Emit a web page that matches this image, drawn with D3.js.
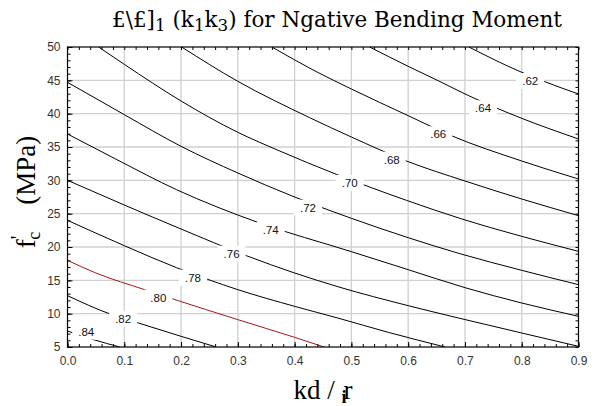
<!DOCTYPE html>
<html>
<head>
<meta charset="utf-8">
<script src="https://cdn.jsdelivr.net/npm/d3@7"></script>
<style>
  html, body { margin: 0; padding: 0; background: #fff; }
  svg { display: block; }
</style>
</head>
<body>
<svg id="chart" width="597" height="406"></svg>
<script>
'use strict';

// title pieces: [text, isSubscript]
var titleParts = [['£\\£]', false], ['1', true], [' (k', false], ['1', true], ['k', false], ['3', true],
  [') for Ngative Bending Moment', false]];

var kdTicks = [0, 0.1, 0.2, 0.3, 0.4, 0.5, 0.6, 0.7, 0.8, 0.9];
var fcTicks = [5, 10, 15, 20, 25, 30, 35, 40, 45, 50];

// contour lines, [kd/r, f'c]
var c62 = [[0.707, 50], [0.792, 46.5], [0.839, 44.85], [0.9, 42.95]];
var c64 = [[0.532, 50], [0.6, 47.1], [0.654, 44.9], [0.704, 42.8], [0.754, 40.9], [0.8, 39.3], [0.9, 36.2]];
var c66 = [[0.36, 50], [0.436, 46.4], [0.5, 43.7], [0.6, 39.7], [0.676, 36.7], [0.8, 32.9], [0.9, 30.2]];
var c68 = [[0.201, 50], [0.3, 44.85], [0.4265, 39.4], [0.5, 36.5], [0.597, 32.9], [0.7, 29.9], [0.8, 27.2], [0.9, 24.7]];
var c70 = [[0.0547, 50], [0.1, 47.4], [0.2, 41.9], [0.3, 37.2], [0.371, 34.5], [0.4735, 30.9], [0.597, 27.0], [0.691, 24.3], [0.8, 21.6], [0.9, 19.35]];
var c72 = [[0, 44.7], [0.1, 39.85], [0.2, 35.1], [0.3, 31.1], [0.397, 27.6], [0.5, 24.3], [0.6, 21.4], [0.691, 19.0], [0.8, 16.5], [0.9, 14.35]];
var c74 = [[0, 36.95], [0.087, 33.1], [0.192, 28.6], [0.335, 23.7], [0.5, 19.3], [0.6, 16.6], [0.7, 13.9], [0.8, 11.6], [0.9, 9.6]];
var c76 = [[0, 30.0], [0.1, 26.3], [0.2, 22.7], [0.315, 18.7], [0.4, 16.1], [0.478, 14.0], [0.6, 11.2], [0.691, 9.3], [0.8, 7.1], [0.9, 5.1]];
var c78 = [[0, 24.0], [0.1, 20.2], [0.192, 16.9], [0.3, 13.6], [0.4, 11.1], [0.478, 9.3], [0.565, 7.2], [0.665, 5.0]];
var c80 = [[0, 18.0], [0.05, 16.1], [0.136, 13.6], [0.186, 12.2], [0.3, 9.1], [0.4, 6.45], [0.452, 5.0]];
var c82 = [[0, 12.7], [0.075, 9.95], [0.125, 8.6], [0.2, 6.6], [0.262, 5.0]];
var c84 = [[0, 7.4], [0.046, 6.1], [0.092, 5.0]];

var levelNames = ['.62', '.64', '.66', '.68', '.70', '.72', '.74', '.76', '.78', '.80', '.82', '.84'];
var labelKd = [0.815, 0.732, 0.653, 0.571, 0.497, 0.4235, 0.358, 0.289, 0.221, 0.160, 0.098, 0.033];
var labelFc = [44.9, 40.8, 36.9, 33.1, 29.6, 25.9, 22.6, 19.0, 15.4, 12.4, 9.2, 7.3];

var contourLines = [c62, c64, c66, c68, c70, c72, c74, c76, c78, c80, c82, c84];

var plotLeft = 67.5, plotRight = 578.5, plotTop = 47, plotBottom = 347;

var svg = d3.select('#chart');

var x = d3.scaleLinear().domain([0, 0.9]).range([plotLeft, plotRight]);
var y = d3.scaleLinear().domain([5, 50]).range([plotBottom, plotTop]);

function translate(tx, ty) {
  return 'translate(' + tx + ', ' + ty + ')';
}

svg.append('clipPath')
  .attr('id', 'plotClip')
  .append('rect')
  .attr('x', plotLeft)
  .attr('y', plotTop)
  .attr('width', plotRight - plotLeft)
  .attr('height', plotBottom - plotTop);

// grid
var grid = svg.append('g').attr('class', 'grid');
grid.selectAll('line.vx')
  .data(kdTicks.slice(1, -1))
  .enter()
  .append('line')
  .attr('class', 'vx')
  .attr('x1', function (d) { return x(d); })
  .attr('x2', function (d) { return x(d); })
  .attr('y1', plotTop)
  .attr('y2', plotBottom);
grid.selectAll('line.hy')
  .data(fcTicks.slice(1, -1))
  .enter()
  .append('line')
  .attr('class', 'hy')
  .attr('x1', plotLeft)
  .attr('x2', plotRight)
  .attr('y1', function (d) { return y(d); })
  .attr('y2', function (d) { return y(d); });
grid.selectAll('line')
  .style('stroke', '#d0d0d0')
  .style('stroke-width', 1.3);

// contour lines
var line = d3.line()
  .x(function (d) { return x(d[0]); })
  .y(function (d) { return y(d[1]); })
  .curve(d3.curveMonotoneX);

svg.append('g')
  .attr('clip-path', 'url(#plotClip)')
  .selectAll('path')
  .data(contourLines)
  .enter()
  .append('path')
  .attr('d', line)
  .style('fill', 'none')
  .style('stroke', function (d, i) {
    return levelNames[i] === '.80' ? '#a4161a' : '#000';
  })
  .style('stroke-width', 1);

// contour labels on white boxes
var labels = svg.append('g').attr('class', 'labels');
levelNames.forEach(function (name, i) {
  var g = labels.append('g').attr('transform', translate(x(labelKd[i]), y(labelFc[i])));
  var rect = g.append('rect').style('fill', '#fff');
  var t = g.append('text')
    .attr('text-anchor', 'middle')
    .attr('dy', '0.36em')
    .style('font-family', 'Liberation Sans, Arial, sans-serif')
    .style('font-size', '11.5px')
    .style('fill', '#111')
    .text(name);
  var w = t.node().getComputedTextLength() + 12;
  rect.attr('x', -w / 2).attr('y', -8).attr('width', w).attr('height', 16);
});

// axes with inward ticks
var minorKd = d3.range(0, 0.9001, 0.02);
var minorFc = d3.range(5, 50.001, 1);

function styleAxis(g) {
  g.select('.domain').remove();
  g.selectAll('.tick line').style('stroke', '#000').style('stroke-width', 1);
  g.selectAll('.tick text')
    .style('font-family', 'Liberation Sans, Arial, sans-serif')
    .style('font-size', '12px')
    .style('fill', '#333');
}

svg.append('g')
  .attr('transform', translate(0, plotBottom))
  .call(d3.axisBottom(x).tickValues(minorKd).tickSize(-3).tickFormat(''))
  .call(styleAxis);
svg.append('g')
  .attr('transform', translate(0, plotTop))
  .call(d3.axisTop(x).tickValues(minorKd).tickSize(-3).tickFormat(''))
  .call(styleAxis);
svg.append('g')
  .attr('transform', translate(plotLeft, 0))
  .call(d3.axisLeft(y).tickValues(minorFc).tickSize(-3).tickFormat(''))
  .call(styleAxis);
svg.append('g')
  .attr('transform', translate(plotRight, 0))
  .call(d3.axisRight(y).tickValues(minorFc).tickSize(-3).tickFormat(''))
  .call(styleAxis);

svg.append('g')
  .attr('transform', translate(0, plotBottom))
  .call(d3.axisBottom(x).tickValues(kdTicks).tickSize(-5).tickPadding(9).tickFormat(d3.format('.1f')))
  .call(styleAxis);
svg.append('g')
  .attr('transform', translate(plotLeft, 0))
  .call(d3.axisLeft(y).tickValues(fcTicks).tickSize(-5).tickPadding(7).tickFormat(d3.format('d')))
  .call(styleAxis);

svg.append('rect')
  .attr('x', plotLeft)
  .attr('y', plotTop)
  .attr('width', plotRight - plotLeft)
  .attr('height', plotBottom - plotTop)
  .style('fill', 'none')
  .style('stroke', '#000')
  .style('stroke-width', 1.2);

// title, fitted to the width it has in the picture
var title = svg.append('text')
  .attr('x', 112)
  .attr('y', 27)
  .style('font-family', 'DejaVu Serif, serif')
  .style('font-size', '20px')
  .style('fill', '#000');
titleParts.forEach(function (p, i) {
  var prevSub = i > 0 && titleParts[i - 1][1];
  title.append('tspan')
    .attr('dy', p[1] ? 4 : (prevSub ? -4 : 0))
    .style('font-size', p[1] ? '0.78em' : null)
    .text(p[0]);
});
var tw = title.node().getComputedTextLength();
title.style('font-size', (20 * 450 / tw) + 'px');

// x title
var xTitle = svg.append('text')
  .attr('x', (plotLeft + plotRight) / 2)
  .attr('y', 399)
  .attr('text-anchor', 'middle')
  .style('font-family', 'Liberation Serif, Times New Roman, serif')
  .style('font-size', '27px')
  .style('fill', '#000');
xTitle.append('tspan').text('kd / ');
xTitle.append('tspan')
  .attr('dy', 4)
  .style('font-size', '18px')
  .style('font-weight', 'bold')
  .text('i');
xTitle.append('tspan')
  .attr('dx', -3)
  .attr('dy', -4)
  .text('r');

// y title
var yTitle = svg.append('text')
  .attr('transform', translate(35, 192) + ' rotate(-90)')
  .attr('text-anchor', 'middle')
  .style('font-family', 'Liberation Serif, Times New Roman, serif')
  .style('font-size', '27px')
  .style('fill', '#000');
yTitle.append('tspan').text('f');
yTitle.append('tspan')
  .attr('dy', -10)
  .style('font-size', '20px')
  .text('\'');
yTitle.append('tspan')
  .attr('dx', -4)
  .attr('dy', 15)
  .style('font-size', '18px')
  .text('c');
yTitle.append('tspan')
  .attr('dy', -5)
  .text('\u2003(MPa)');
</script>
</body>
</html>
